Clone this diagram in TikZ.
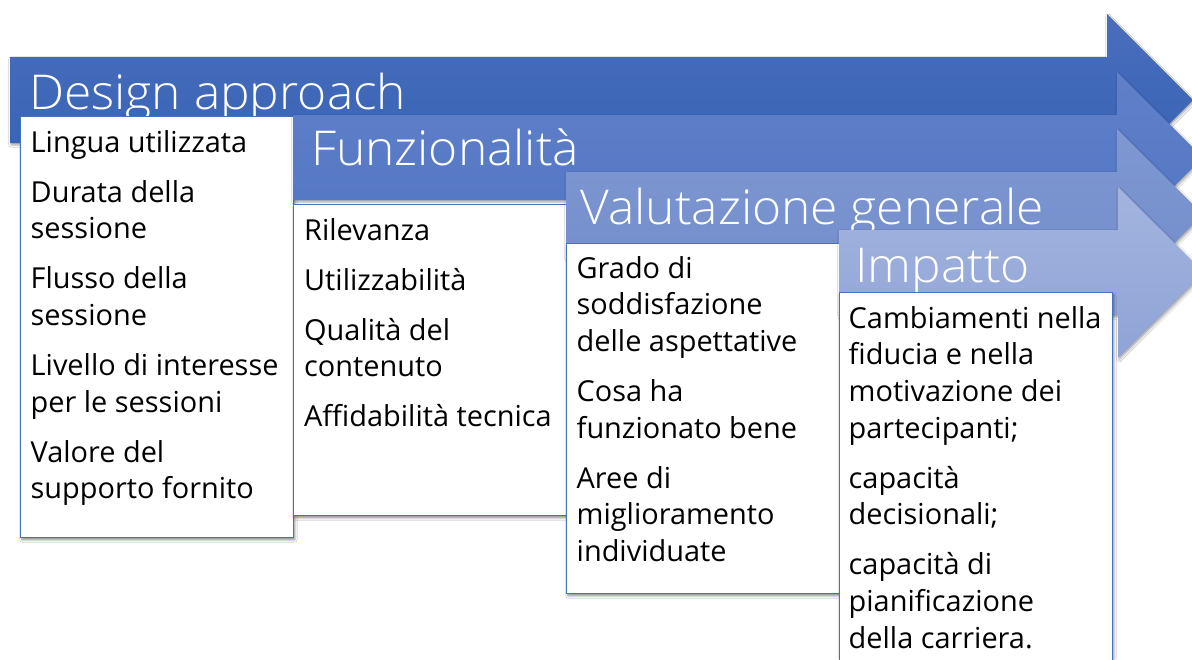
\documentclass[tikz,border=0pt]{standalone}
\usepackage{fontspec}
\setmainfont{Open Sans}
\newfontfamily\ttlfont{Open Sans Light}[FakeStretch=1.035]
\usetikzlibrary{shadows.blur}
\definecolor{aOneT}{HTML}{4A6EBC}
\definecolor{aOneB}{HTML}{3461B5}
\definecolor{aTwoT}{HTML}{6080C9}
\definecolor{aTwoB}{HTML}{5276C4}
\definecolor{aThrT}{HTML}{7F98D2}
\definecolor{aThrB}{HTML}{718CCB}
\definecolor{aFouT}{HTML}{A3B4DE}
\definecolor{aFouB}{HTML}{8FA3D6}
\definecolor{boxline}{HTML}{4472C4}
\begin{document}
\begin{tikzpicture}[x=1pt,y=-1pt,
  box/.style={draw=boxline, line width=0.8pt, fill=white, inner sep=0pt, anchor=north west, minimum width=273pt,
    blur shadow={shadow xshift=1.5pt, shadow yshift=-2.5pt, shadow blur steps=6, shadow opacity=45}},
  arrowshade/.style={blur shadow={shadow xshift=1pt, shadow yshift=-2pt, shadow blur steps=5, shadow opacity=35}},
  ttl/.style={text=white, font=\ttlfont\fontsize{48}{50}\selectfont, anchor=base west, inner sep=0pt},
  bodytext/.style={text=black, font=\fontsize{28.9}{36.7}\selectfont, align=left, anchor=base west, inner sep=0pt}]
\path[use as bounding box] (0,0) rectangle (1192,659);
\clip (0,0) rectangle (1192,659);
\fill[white] (0,0) rectangle (1192,659);

% arrow 1
\shade[arrowshade, top color=aOneT, bottom color=aOneB]
  (10,57) -- (1107,57) -- (1107,14) -- (1193,100) -- (1107,186) -- (1107,143) -- (10,143) -- cycle;
\node[ttl] (t1) at (29,109) {Design approach};
\node[box, minimum height=421pt] (b1) at (20,116) {};
% anchor base = baseline of the last line
\node[bodytext] (x1) at (30.5,498.8) {Lingua utilizzata\\[13.3pt]Durata della\\sessione\\[13.3pt]Flusso della\\sessione\\[13.3pt]Livello di interesse\\per le sessioni\\[13.3pt]Valore del\\supporto fornito};

% arrow 2
\shade[arrowshade, top color=aTwoT, bottom color=aTwoB]
  (293,115) -- (1117,115) -- (1117,72) -- (1203,157.5) -- (1117,243) -- (1117,200) -- (293,200) -- cycle;
\node[ttl] (t2) at (311,165.5) {Funzionalità};
\node[box, minimum height=311pt] (b2) at (293,204) {};
\node[bodytext] (x2) at (304,426.7) {Rilevanza\\[13.3pt]Utilizzabilità\\[13.3pt]Qualità del\\contenuto\\[13.3pt]Affidabilità tecnica};

% arrow 3
\shade[arrowshade, top color=aThrT, bottom color=aThrB]
  (566,172) -- (1117,172) -- (1117,129) -- (1203,214.5) -- (1117,300) -- (1117,257) -- (566,257) -- cycle;
\node[ttl] (t3) at (580.5,224) {Valutazione generale};
\node[box, minimum height=350pt] (b3) at (566,243) {};
\node[bodytext] (x3) at (576.5,561.5) {Grado di\\soddisfazione\\delle aspettative\\[13.3pt]Cosa ha\\funzionato bene\\[13.3pt]Aree di\\miglioramento\\individuate};

% arrow 4
\shade[arrowshade, top color=aFouT, bottom color=aFouB]
  (839,230) -- (1118,230) -- (1118,187) -- (1204,272.5) -- (1118,358) -- (1118,315) -- (839,315) -- cycle;
\node[ttl] (t4) at (855,282.5) {Impatto};
\node[box, minimum height=400pt] (b4) at (839,292) {};
\node[bodytext] (x4) at (848.5,648.2) {Cambiamenti nella\\fiducia e nella\\motivazione dei\\partecipanti;\\[13.3pt]capacità\\decisionali;\\[13.3pt]capacità di\\pianificazione\\della carriera.};
\end{tikzpicture}
\end{document}
